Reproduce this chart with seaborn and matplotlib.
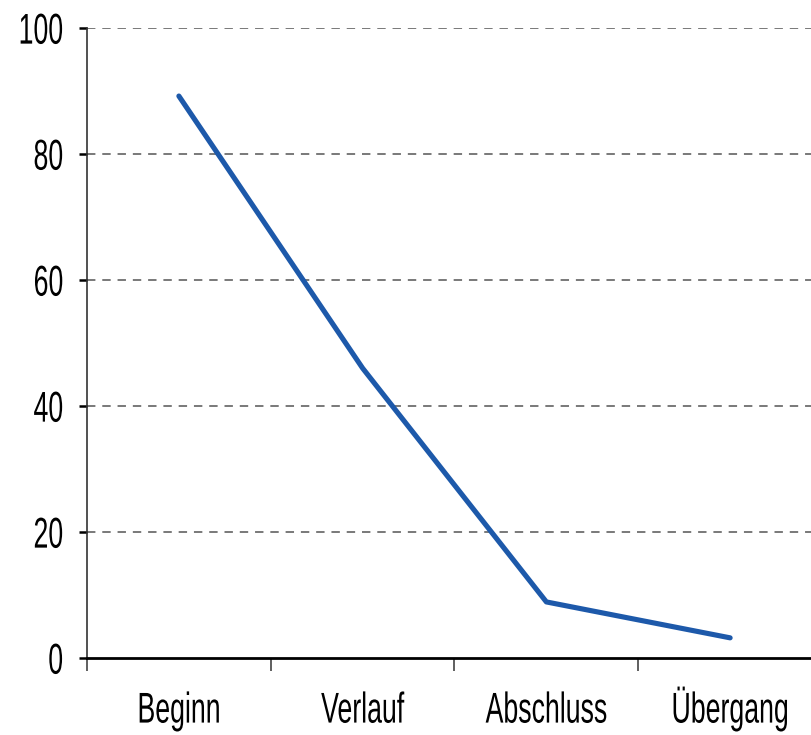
import matplotlib
matplotlib.use("Agg")
import matplotlib.pyplot as plt
import seaborn as sns
import pandas as pd
from matplotlib.ticker import FixedLocator
from matplotlib.patheffects import AbstractPathEffect
from matplotlib.transforms import Affine2D

categories = ["Beginn", "Verlauf", "Abschluss", "Übergang"]
values = [89.2, 46.0, 8.9, 3.2]
y_ticks = [0, 20, 40, 60, 80, 100]


class Condensed(AbstractPathEffect):
    """Draw text glyphs as a tall, condensed face (scaled about the baseline)."""
    def __init__(self, sx=0.75, sy=1.2, anchor="center"):
        super().__init__()
        self.sx = sx
        self.sy = sy
        self.anchor = anchor

    def draw_path(self, renderer, gc, tpath, affine, rgbFace=None):
        ext = tpath.get_extents()
        if self.anchor == "right":
            cx = ext.x1
        elif self.anchor == "left":
            cx = ext.x0
        else:
            cx = (ext.x0 + ext.x1) / 2
        cy = 0.0
        if self.anchor == "right":
            cy = (ext.y0 + ext.y1) / 2
        t = (Affine2D().translate(-cx, -cy).scale(self.sx, self.sy)
             .translate(cx, cy) + affine)
        renderer.draw_path(gc, tpath, t, rgbFace)


sns.set_theme(style="white")
plt.rcParams['font.family'] = ['Liberation Sans', 'DejaVu Sans']

df = pd.DataFrame({"phase": categories, "wert": values})

fig = plt.figure(figsize=(8.12, 7.35), dpi=100)
ax = fig.add_axes([87/812, 77/735, 735/812, 630/735])

sns.lineplot(data=df, x="phase", y="wert", ax=ax, color="#1d59aa", linewidth=3.7,
             sort=False, solid_capstyle="round")

FS = 25.5
SY = 31 / FS
SX = 0.62 * 31 / FS

ax.set_xlim(-0.5, 3.5)
ax.set_ylim(0, 100)
ax.set_yticks(y_ticks)
ax.set_xticks(range(len(categories)))
ax.set_xticklabels(categories)
ax.xaxis.set_minor_locator(FixedLocator([-0.5, 0.5, 1.5, 2.5, 3.5]))
ax.tick_params(axis="x", which="major", length=0, pad=46.5, labelsize=FS, labelcolor="black")
ax.tick_params(axis="x", which="minor", length=9, width=1.2, color="#444444", direction="out", bottom=True)
ax.tick_params(axis="y", length=6, width=1.8, color="black", direction="out", left=True,
               labelsize=FS, pad=11, labelcolor="black")
ax.set_xlabel("")
ax.set_ylabel("")

for lab in ax.get_xticklabels():
    lab.set_verticalalignment("baseline")
    lab.set_path_effects([Condensed(SX, SY, "center")])
for lab in ax.get_yticklabels():
    lab.set_path_effects([Condensed(SX, SY, "right")])

for y in y_ticks[1:]:
    ax.axhline(y, color="#555555", linewidth=1.1, dashes=(5.5, 4.5), zorder=0)

for s in ["top", "right"]:
    ax.spines[s].set_visible(False)
ax.spines["left"].set_color("#333333")
ax.spines["left"].set_linewidth(1.2)
ax.spines["bottom"].set_color("black")
ax.spines["bottom"].set_linewidth(2)
ax.set_facecolor("white")
fig.patch.set_facecolor("white")

fig.savefig("out.png", dpi=100)
